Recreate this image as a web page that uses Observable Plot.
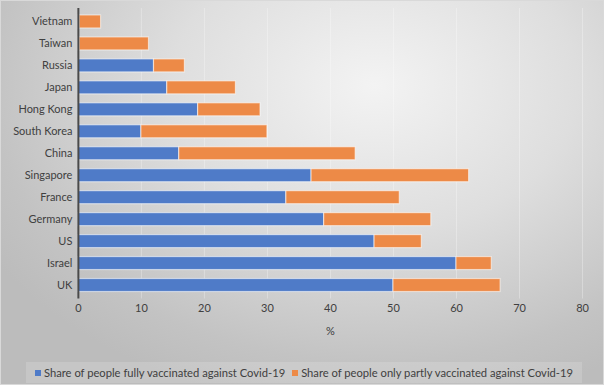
<!DOCTYPE html>
<html><head><meta charset="utf-8">
<script src="https://cdn.jsdelivr.net/npm/d3@7"></script>
<script src="https://cdn.jsdelivr.net/npm/@observablehq/plot@0.6"></script>
<style>
html,body{margin:0;padding:0;}
#wrap{position:relative;width:604px;height:385px;overflow:hidden;box-sizing:border-box;border:1px solid #d9d9d9;
 background:radial-gradient(ellipse 75% 85% at 62% 22%, #f3f3f3 0%, #dedede 45%, #c3c3c3 85%, #bcbcbc 100%);
 font-family:Lato, "Open Sans", sans-serif;color:#404040;}
#chart{position:absolute;left:-1px;top:-1px;}
#legend{position:absolute;left:25px;top:361px;width:556px;height:21px;background:rgba(255,255,255,0.16);
 font-size:11.2px;display:flex;align-items:center;justify-content:center;gap:7px;white-space:nowrap;}
#legend span.sw{display:inline-block;width:6px;height:6px;margin-right:3px;vertical-align:1px;}
</style></head>
<body><div id="wrap"><div id="chart"></div><div id="legend"></div></div>
<script>
const countries = ["Vietnam","Taiwan","Russia","Japan","Hong Kong","South Korea","China","Singapore","France","Germany","US","Israel","UK"];
const fully = [0.2, 0.2, 12.0, 14.1, 19.0, 10.0, 16.0, 37.0, 33.0, 39.0, 47.0, 60.0, 50.0];
const partly = [3.4, 11.0, 4.9, 10.9, 9.9, 20.0, 28.0, 25.0, 18.0, 17.0, 7.5, 5.6, 17.0];
const seriesNames = ["Share of people fully vaccinated against Covid-19","Share of people only partly vaccinated against Covid-19"];
const seriesColors = ["#4f7bc8","#ed8a47"];
const xTicks = [0,10,20,30,40,50,60,70,80];
const xLabel = "%";

const data = [];
countries.forEach((c,i)=>{
  data.push({country:c, series:seriesNames[0], value:fully[i]});
  data.push({country:c, series:seriesNames[1], value:partly[i]});
});

const chart = Plot.plot({
  width:604, height:350,
  marginLeft:78, marginRight:21, marginTop:8, marginBottom:51,
  style:{background:"transparent", fontFamily:"Lato, 'Open Sans', sans-serif", fontSize:"11px", color:"#404040"},
  x:{domain:[0,80], ticks:xTicks, tickSize:0, tickPadding:5, label:null},
  y:{domain:countries, paddingInner:0.41, paddingOuter:0.205, tickSize:0, tickPadding:6, label:null},
  color:{domain:seriesNames, range:seriesColors},
  marks:[
    Plot.ruleX(xTicks.slice(1), {stroke:"#ffffff", strokeOpacity:0.3, strokeWidth:1}),
    Plot.barX(data, {x:"value", y:"country", fill:"series", stroke:"#ffffff", strokeOpacity:0.55, strokeWidth:1.2}),
    Plot.ruleX([0], {stroke:"#4a4a4a", strokeWidth:2}),
    Plot.text([xLabel], {frameAnchor:"bottom", dy:36, text:d=>d, fill:"#404040", fontSize:11}),
    Plot.axisX({ticks:xTicks, tickSize:0, tickPadding:5, label:null}),
    Plot.axisY({tickSize:0, tickPadding:6, label:null})
  ]
});
document.getElementById("chart").appendChild(chart);

const leg = document.getElementById("legend");
seriesNames.forEach((s,i)=>{
  const d = document.createElement("div");
  d.innerHTML = `<span class="sw" style="background:${seriesColors[i]}"></span>${s}`;
  leg.appendChild(d);
});
</script></body></html>
